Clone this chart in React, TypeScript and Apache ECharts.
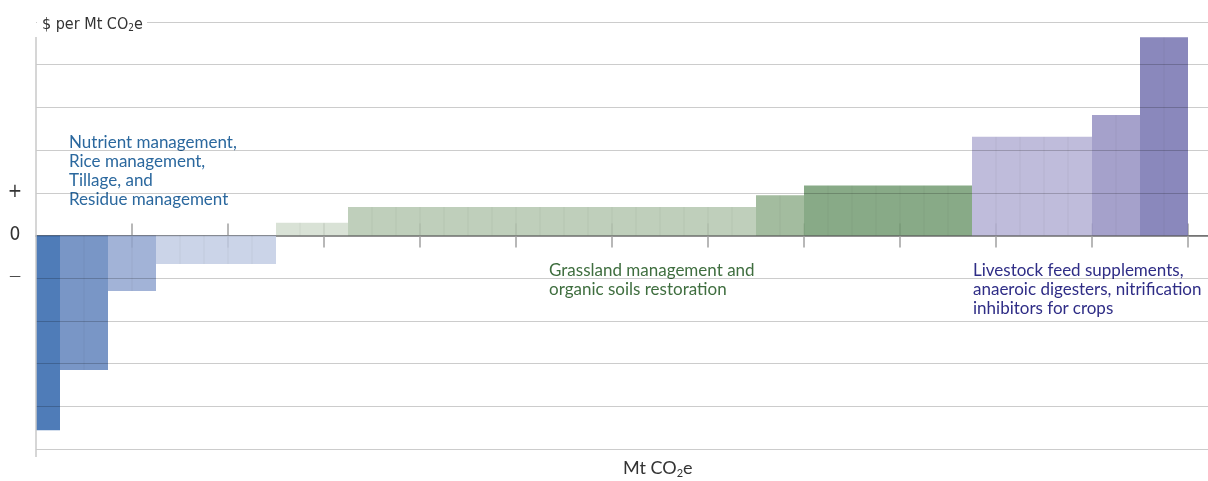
import React, { useEffect, useRef } from "react";
import * as echarts from "echarts";

// Abatement options: width in Mt CO2e units and cost per Mt CO2e (axis units)
const widths = [1, 2, 2, 5, 3, 17, 2, 7, 5, 2, 2];
const costs = [-4.56, -3.15, -1.3, -0.67, 0.3, 0.67, 0.94, 1.17, 2.31, 2.82, 4.64];
const barColors = [
  "#4f7cb8", "#7895c6", "#a2b2d7", "#cbd4e8",
  "#d9e2d6", "#bfcfbb", "#a3bc9f", "#88aa86",
  "#bfbcdb", "#a5a1cb", "#8a87bc",
];
const xTicks = [4, 8, 12, 16, 20, 24, 28, 32, 36, 40, 44, 48];
const yTickLabels: Record<string, string> = { "1": "+", "0": "0", "-1": "{d|\u2014}" };
const groupLabels = [
  "Nutrient management,\nRice management,\nTillage, and\nResidue management",
  "Grassland management and\norganic soils restoration",
  "Livestock feed supplements,\nanaeroic digesters, nitrification\ninhibitors for crops",
];
const groupColors = ["#2b689e", "#3f6e3f", "#2f2d86"];

const X_MAX = 1172 / 24;
const FONT = "Lato, 'Open Sans', sans-serif";
const NARROW = "'Liberation Sans Narrow', 'DejaVu Sans Condensed', sans-serif";
const BAR_ALPHA = 0.88;

// fill colour that, at BAR_ALPHA over white, shows as the target colour
function underFill(hex: string): string {
  const n = parseInt(hex.slice(1), 16);
  const ch = [(n >> 16) & 255, (n >> 8) & 255, n & 255].map((t) =>
    Math.max(0, Math.min(255, Math.round((t - (1 - BAR_ALPHA) * 255) / BAR_ALPHA)))
  );
  return `rgba(${ch[0]},${ch[1]},${ch[2]},${BAR_ALPHA})`;
}

export default function App() {
  const ref = useRef<HTMLDivElement>(null);
  useEffect(() => {
    if (!ref.current) return;
    const chart = echarts.init(ref.current, undefined, { renderer: "svg" });
    let acc = 0;
    const data = widths.map((w, i) => {
      const item = [acc, acc + w, costs[i]];
      acc += w;
      return item;
    });
    const xAxisBase = {
      type: "value",
      min: 0,
      max: X_MAX,
      axisTick: { show: true, length: 12, customValues: xTicks, lineStyle: { color: "#a0a0a0", width: 1.5 } },
      axisLabel: { show: false },
      splitLine: { show: false },
      z: 1,
    };
    chart.setOption({
      animation: false,
      grid: { left: 36, right: 0, top: 22, bottom: 32 },
      xAxis: [
        {
          ...xAxisBase,
          position: "bottom",
          axisLine: { show: true, onZero: true, onZeroAxisIndex: 0, lineStyle: { color: "#8a8a8a", width: 1.5 } },
        },
        {
          ...xAxisBase,
          position: "top",
          axisLine: { show: true, onZero: true, onZeroAxisIndex: 1, lineStyle: { color: "#8a8a8a", width: 1.5 } },
        },
      ],
      yAxis: [
        {
          type: "value",
          min: -5,
          max: 5,
          interval: 1,
          z: 5,
          axisLine: { show: false },
          axisTick: { show: false },
          splitLine: { show: true, lineStyle: { color: "rgba(0,0,0,0.2)", width: 1 } },
          axisLabel: {
            margin: 21,
            align: "center",
            color: "#333",
            fontSize: 19,
            fontFamily: NARROW,
            padding: [0, 0, 6, 0],
            formatter: (v: number) => yTickLabels[String(v)] ?? "",
            rich: { d: { fontSize: 13, color: "#333", fontFamily: NARROW } },
          },
        },
        {
          type: "value",
          min: -5,
          max: 5,
          interval: 1,
          show: false,
          splitLine: { show: false },
        },
      ],
      series: [
        {
          type: "custom",
          xAxisIndex: 0,
          yAxisIndex: 0,
          z: 2,
          data,
          renderItem: (params: any, api: any) => {
            const s = api.value(0);
            const e = api.value(1);
            const v = api.value(2);
            const p0 = api.coord([s, 0]);
            const p1 = api.coord([e, v]);
            const x = p0[0];
            const w = p1[0] - p0[0];
            const y = Math.min(p0[1], p1[1]);
            const h = Math.abs(p1[1] - p0[1]);
            const children: any[] = [
              { type: "rect", shape: { x, y, width: w, height: h }, style: { fill: underFill(barColors[params.dataIndex]) } },
            ];
            for (let k = 1; k < e - s; k++) {
              const px = api.coord([s + k, 0])[0];
              children.push({
                type: "line",
                shape: { x1: px, y1: y, x2: px, y2: y + h },
                style: { stroke: "rgba(0,0,0,0.06)", lineWidth: 1 },
              });
            }
            return { type: "group", children };
          },
        },
      ],
      graphic: [
        { type: "line", z: 100, shape: { x1: 36, y1: 37, x2: 36, y2: 457 }, style: { stroke: "#c8c8c8", lineWidth: 1.5 } },
        { type: "rect", z: 100, shape: { x: 37, y: 10, width: 110, height: 24 }, style: { fill: "#fff" } },
        {
          type: "text",
          z: 101,
          x: 42,
          y: 23,
          style: {
            text: "$ per Mt CO{sub|2}e",
            fill: "#333",
            fontSize: 16,
            fontFamily: NARROW,
            verticalAlign: "middle",
            rich: { sub: { fontSize: 10, padding: [9, 0, 0, 0], fill: "#333", fontFamily: NARROW } },
          },
        },
        {
          type: "text",
          z: 101,
          x: 623,
          y: 467,
          style: {
            text: "Mt CO{sub|2}e",
            fill: "#333",
            fontSize: 18,
            fontFamily: FONT,
            verticalAlign: "middle",
            rich: { sub: { fontSize: 11, padding: [10, 0, 0, 0], fill: "#333", fontFamily: FONT } },
          },
        },
        {
          type: "text", z: 1, x: 69, y: 131.5,
          style: { text: groupLabels[0], fill: groupColors[0], fontSize: 17, lineHeight: 19, fontFamily: FONT, verticalAlign: "top" },
        },
        {
          type: "text", z: 1, x: 549, y: 259.5,
          style: { text: groupLabels[1], fill: groupColors[1], fontSize: 17, lineHeight: 19, fontFamily: FONT, verticalAlign: "top" },
        },
        {
          type: "text", z: 1, x: 973, y: 259.5,
          style: { text: groupLabels[2], fill: groupColors[2], fontSize: 17, lineHeight: 19, fontFamily: FONT, verticalAlign: "top" },
        },
      ],
    });
    return () => chart.dispose();
  }, []);
  return <div ref={ref} style={{ position: "fixed", left: 0, top: 0, width: 1208, height: 481 }} />;
}
